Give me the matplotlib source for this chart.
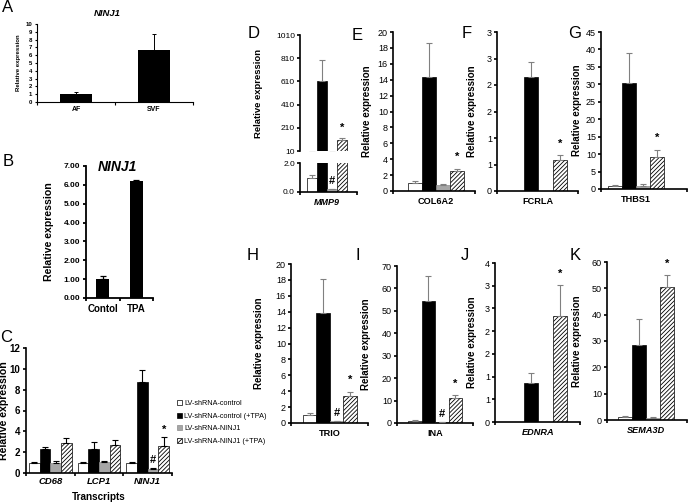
import numpy as np
import matplotlib
matplotlib.use("Agg")
import matplotlib.pyplot as plt
from matplotlib.patches import Patch

plt.rcParams['font.family'] = ['Liberation Sans', 'DejaVu Sans']
plt.rcParams['hatch.linewidth'] = 0.6

# ------------------------------------------------------------------ data
a_categories = ['AF', 'SVF']
a_values = [1.0, 6.7]
a_errors = [0.3, 2.0]

b_categories = ['Contol', 'TPA']
b_values = [1.0, 6.2]
b_errors = [0.18, 0.07]

series_labels = ['LV-shRNA-control', 'LV-shRNA-control (+TPA)',
                 'LV-shRNA-NINJ1', 'LV-shRNA-NINJ1 (+TPA)']

c_transcripts = ['CD68', 'LCP1', 'NINJ1']
c_ctrl = [1.0, 1.0, 1.0]
c_ctrl_err = [0.1, 0.1, 0.1]
c_ctrl_tpa = [2.35, 2.3, 8.7]
c_ctrl_tpa_err = [0.15, 0.7, 1.2]
c_ninj1 = [1.0, 1.05, 0.4]
c_ninj1_err = [0.2, 0.15, 0.1]
c_ninj1_tpa = [2.9, 2.7, 2.55]
c_ninj1_tpa_err = [0.5, 0.45, 0.95]

mmp9_values = [1.0, 613, 0.2, 105]
mmp9_errors = [0.18, 182, 0.04, 17]
col6a2_values = [1.0, 14.4, 0.75, 2.5]
col6a2_errors = [0.3, 4.2, 0.1, 0.25]
fcrla_values = [0.0, 2.16, 0.0, 0.58]
fcrla_errors = [0.0, 0.27, 0.0, 0.09]
thbs1_values = [1.0, 30.3, 0.8, 9.2]
thbs1_errors = [0.2, 8.6, 0.5, 2.0]
trio_values = [1.0, 13.8, 0.2, 3.4]
trio_errors = [0.2, 4.3, 0.05, 0.5]
ina_values = [1.0, 54.4, 0.3, 11.1]
ina_errors = [0.3, 11.1, 0.1, 1.2]
ednra_values = [0.0, 0.85, 0.0, 2.33]
ednra_errors = [0.0, 0.22, 0.0, 0.68]
sema3d_values = [1.2, 28.4, 0.8, 50.5]
sema3d_errors = [0.2, 9.9, 0.2, 4.4]

# ------------------------------------------------------------------ layout helpers
W, H = 688, 504
fig = plt.figure(figsize=(W / 100, H / 100), dpi=100)

SER_FACE = ['white', 'black', '#a6a6a6', 'white']
SER_EDGE = ['black', 'black', '#8c8c8c', 'black']
SER_HATCH = [None, None, None, '////////']


def rect(l, t, r, b):
    return [l / W, 1 - b / H, (r - l) / W, (b - t) / H]


def fx(x):
    return x / W


def fy(y):
    return 1 - y / H


def style_axes(ax, lw=1.1, ticklen=2.2):
    for s in ['top', 'right']:
        ax.spines[s].set_visible(False)
    for s in ['left', 'bottom']:
        ax.spines[s].set_linewidth(lw)
    ax.tick_params(axis='y', which='major', direction='out', length=ticklen,
                   width=lw, pad=1.5)
    ax.tick_params(axis='x', which='major', length=0)
    ax.tick_params(axis='x', which='minor', direction='out', length=ticklen,
                   width=lw)


def set_yt(ax, ticks, fmt, fs, weight='normal'):
    ax.set_yticks(ticks, [fmt(v) for v in ticks], fontsize=fs, fontweight=weight)


def excel_round(v):
    return str(int(np.floor(v + 0.5 + 1e-9)))


def draw_bars(ax, xpos, series_vals, series_errs, width, ecolor):
    xpos = np.asarray(xpos, float)
    out = []
    for i in range(4):
        v = np.asarray(series_vals[i], float)
        e = np.asarray(series_errs[i], float)
        x = xpos + (i - 1.5) * width
        ax.bar(x, v, width, color=SER_FACE[i], edgecolor=SER_EDGE[i],
               hatch=SER_HATCH[i], linewidth=0.5, zorder=2)
        m = e > 0
        if m.any():
            ax.errorbar(x[m], v[m], yerr=[np.zeros(m.sum()), e[m]], fmt='none',
                        ecolor=ecolor, elinewidth=0.8, capsize=2, capthick=0.8,
                        zorder=3)
        out.append((x, v, e))
    return out


def mark(ax, x, y, s, off):
    ax.annotate(s, (x, y), xytext=(0, off), textcoords='offset points',
                ha='center', va='center', fontsize=8, fontweight='bold',
                annotation_clip=False)


def panel_letter(s, x, y):
    fig.text(fx(x), fy(y), s, fontsize=12, ha='center', va='center')


# ------------------------------------------------------------------ Panel A
l, t, r, b = 37, 24, 193, 102
axA = fig.add_axes(rect(l, t, r, b))
xa = np.arange(len(a_categories))
axA.bar(xa, a_values, 0.42, color='black', zorder=2)
axA.errorbar(xa, a_values, yerr=[np.zeros(len(xa)), a_errors], fmt='none',
             ecolor='black', elinewidth=0.7, capsize=1.5, capthick=0.7, zorder=3)
axA.set_xlim(-0.5, len(a_categories) - 0.5)
axA.set_ylim(0, 10)
style_axes(axA, lw=0.8, ticklen=1.8)
set_yt(axA, list(range(0, 11)), lambda v: f'{v:d}', 4.3, 'bold')
axA.set_xticks(xa, a_categories, fontsize=5, fontweight='bold')
axA.set_xticks(np.arange(len(a_categories) + 1) - 0.5, minor=True)
axA.tick_params(axis='x', which='major', pad=3)
axA.set_ylabel('Relative expression', fontsize=4.3, fontweight='bold')
axA.yaxis.set_label_coords((21 - l) / (r - l), 0.5)
fig.text(fx(107), fy(13), 'NINJ1', fontsize=6.8, fontweight='bold',
         fontstyle='italic', ha='center', va='center')
panel_letter('A', 8, 8)

# ------------------------------------------------------------------ Panel B
l, t, r, b = 86, 166, 153, 298
axB = fig.add_axes(rect(l, t, r, b))
xb = np.arange(len(b_categories))
axB.bar(xb, b_values, 0.39, color='black', zorder=2)
axB.errorbar(xb, b_values, yerr=[np.zeros(len(xb)), b_errors], fmt='none',
             ecolor='black', elinewidth=0.9, capsize=2, capthick=0.9, zorder=3)
axB.set_xlim(-0.5, len(b_categories) - 0.5)
axB.set_ylim(0, 7)
style_axes(axB, lw=1.3, ticklen=2.5)
set_yt(axB, list(range(0, 8)), lambda v: f'{v:.2f}', 6, 'bold')
axB.set_xticks(xb, b_categories, fontsize=7, fontweight='bold')
axB.set_xticks(np.arange(len(b_categories) + 1) - 0.5, minor=True)
axB.tick_params(axis='x', which='major', pad=4)
axB.set_ylabel('Relative expression', fontsize=7.6, fontweight='bold')
axB.yaxis.set_label_coords((54 - l) / (r - l), 0.5)
fig.text(fx(117), fy(167), 'NINJ1', fontsize=10, fontweight='bold',
         fontstyle='italic', ha='center', va='center')
panel_letter('B', 8, 162)

# ------------------------------------------------------------------ Panel C
l, t, r, b = 26, 348, 172, 473
axC = fig.add_axes(rect(l, t, r, b))
xc = np.arange(len(c_transcripts))
wc = 0.22
bars_c = draw_bars(axC, xc, [c_ctrl, c_ctrl_tpa, c_ninj1, c_ninj1_tpa],
                   [c_ctrl_err, c_ctrl_tpa_err, c_ninj1_err, c_ninj1_tpa_err],
                   wc, 'black')
axC.set_xlim(-0.5, len(c_transcripts) - 0.5)
axC.set_ylim(0, 12)
style_axes(axC, lw=1.2, ticklen=2.5)
set_yt(axC, list(range(0, 13, 2)), lambda v: f'{v:d}', 7, 'bold')
axC.set_xticks(xc, c_transcripts, fontsize=6.8, fontweight='bold',
               fontstyle='italic')
axC.set_xticks(np.arange(len(c_transcripts) + 1) - 0.5, minor=True)
axC.tick_params(axis='x', which='major', pad=3)
axC.set_ylabel('Relative expression', fontsize=7.6, fontweight='bold')
axC.yaxis.set_label_coords((9 - l) / (r - l), 0.5)
fig.text(fx(99), fy(497), 'Transcripts', fontsize=7.2, fontweight='bold',
         ha='center', va='center')
# significance on NINJ1 group
xg, vg, eg = bars_c[2]
mark(axC, xg[2], vg[2] + eg[2], '#', 5.5)
xh, vh, eh = bars_c[3]
mark(axC, xh[2], vh[2] + eh[2], '*', 4.5)
panel_letter('C', 6, 337)

handles = [Patch(facecolor=SER_FACE[i], edgecolor=SER_EDGE[i], hatch=SER_HATCH[i],
                 linewidth=0.5) for i in range(4)]
fig.legend(handles, series_labels, loc='upper left',
           bbox_to_anchor=(fx(177), fy(400)), frameon=False, fontsize=5.2,
           handlelength=0.75, handleheight=0.75, handletextpad=0.25,
           labelspacing=0.75, borderpad=0, borderaxespad=0)

# ------------------------------------------------------------------ Panel D (broken axis)
l, r, c, slot = 300, 357, 327, 10
wd = slot / (r - l)
xlim_d = ((l - c) / (r - l), (r - c) / (r - l))
axDu = fig.add_axes(rect(l, 35, r, 151))
axDl = fig.add_axes(rect(l, 163, r, 192))
for ax in (axDu, axDl):
    res = draw_bars(ax, [0.0], [[v] for v in mmp9_values],
                    [[e] for e in mmp9_errors], wd, '#808080')
    ax.set_xlim(*xlim_d)
    style_axes(ax, lw=1.2, ticklen=2.2)
axDu.set_ylim(10, 1010)
set_yt(axDu, list(range(10, 1011, 200)), lambda v: f'{v:d}', 6)
axDu.spines['bottom'].set_visible(False)
axDu.tick_params(axis='x', which='both', bottom=False, labelbottom=False)
axDu.set_ylabel('Relative expression', fontsize=6.8, fontweight='bold')
axDu.yaxis.set_label_coords((263 - l) / (r - l), 0.5)
axDl.set_ylim(0, 2)
set_yt(axDl, [0, 2], lambda v: f'{v:.1f}', 6)
axDl.set_xticks([0], ['MMP9'], fontsize=6.5, fontweight='bold', fontstyle='italic')
axDl.set_xticks(list(xlim_d), minor=True)
axDl.tick_params(axis='x', which='major', pad=4)
mark(axDu, 1.5 * wd, mmp9_values[3] + mmp9_errors[3], '*', 7)
mark(axDl, 0.5 * wd, mmp9_values[2] + mmp9_errors[2], '#', 5.5)
panel_letter('D', 254, 34)


# ------------------------------------------------------------------ Panels E-K
def gene_panel(l, t, r, b, c, slot, name, italic, vals, errs, ymax, ystep, fmt,
               ylabel_px, star=True, hsh=False):
    ax = fig.add_axes(rect(l, t, r, b))
    w = slot / (r - l)
    xlim = ((l - c) / (r - l), (r - c) / (r - l))
    draw_bars(ax, [0.0], [[v] for v in vals], [[e] for e in errs], w, '#808080')
    ax.set_xlim(*xlim)
    ax.set_ylim(0, ymax)
    style_axes(ax, lw=1.2, ticklen=2.2)
    ticks = list(np.round(np.arange(0, ymax + ystep / 2, ystep), 6))
    set_yt(ax, ticks, fmt, 6.5)
    ax.set_xticks([0], [name], fontsize=6.6, fontweight='bold',
                  fontstyle='italic' if italic else 'normal')
    ax.set_xticks(list(xlim), minor=True)
    ax.tick_params(axis='x', which='major', pad=4)
    ax.set_ylabel('Relative expression', fontsize=7, fontweight='bold')
    ax.yaxis.set_label_coords((ylabel_px - l) / (r - l), 0.5)
    if star:
        mark(ax, 1.5 * w, vals[3] + errs[3], '*', 8.5)
    if hsh:
        mark(ax, 0.5 * w, vals[2] + errs[2], '#', 5.5)
    return ax


int_fmt = lambda v: f'{int(round(v))}'

gene_panel(393, 32, 475, 191, 436, 14, 'COL6A2', False, col6a2_values,
           col6a2_errors, 20, 2, int_fmt, 372)
panel_letter('E', 357, 35)
gene_panel(497, 32, 578, 191, 538, 14.5, 'FCRLA', False, fcrla_values,
           fcrla_errors, 3, 0.5, excel_round, 477)
panel_letter('F', 467, 34)
gene_panel(601, 32, 687, 189, 636, 14, 'THBS1', False, thbs1_values,
           thbs1_errors, 45, 5, int_fmt, 582)
panel_letter('G', 575, 34)
gene_panel(291, 264, 368, 423, 330, 13.5, 'TRIO', False, trio_values,
           trio_errors, 20, 2, int_fmt, 264, hsh=True)
panel_letter('H', 253, 255)
gene_panel(397, 266, 473, 423, 435, 13.5, 'INA', False, ina_values,
           ina_errors, 70, 10, int_fmt, 371, hsh=True)
panel_letter('I', 358, 255)
gene_panel(495, 263, 580, 422, 538, 14.5, 'EDNRA', True, ednra_values,
           ednra_errors, 3.5, 0.5, excel_round, 477)
panel_letter('J', 465, 255)
gene_panel(607, 262, 687, 420, 646, 14, 'SEMA3D', True, sema3d_values,
           sema3d_errors, 60, 10, int_fmt, 582)
panel_letter('K', 575, 255)

fig.savefig('out.png', dpi=100)
